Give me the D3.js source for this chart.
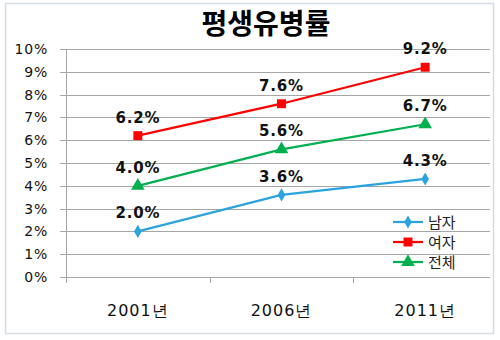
<!DOCTYPE html>
<html><head><meta charset="utf-8">
<script src="https://cdn.jsdelivr.net/npm/d3@7"></script>
<style>body{margin:0;background:#fff}svg{display:block}</style>
</head><body>
<svg id="c" width="500" height="340"></svg>
<script>
const categories = ["2001년", "2006년", "2011년"];
const male = [2.0, 3.6, 4.3];
const female = [6.2, 7.6, 9.2];
const total = [4.0, 5.6, 6.7];
const seriesNames = ["남자", "여자", "전체"];
const yTicks = [0,1,2,3,4,5,6,7,8,9,10];
const title = "평생유병률";

(function(){
const series = [
  {name: seriesNames[0], values: male, color: "#2AA3DF", shape: d3.symbolDiamond, size: 50},
  {name: seriesNames[1], values: female, color: "#FF0000", shape: d3.symbolSquare, size: 80},
  {name: seriesNames[2], values: total, color: "#00B050", shape: d3.symbolTriangle, size: 80}
];

const svg = d3.select("#c");
svg.append("rect").attr("x",5.5).attr("y",3.5).attr("width",488).attr("height",330)
  .attr("fill","#fff").attr("stroke","#D6DCE4").attr("stroke-width",1.5);

const pl = 66, pr = 497, pt = 49, pb = 277;
const x = d3.scaleBand().domain(categories).range([pl, pr]);
const y = d3.scaleLinear().domain([0, 10]).range([pb, pt]);

svg.append("text").attr("x", 266).attr("y", 34).attr("text-anchor","middle")
  .attr("font-family","Noto Sans CJK KR").attr("font-weight","bold").attr("font-size",28)
  .attr("fill","#000").text(title);

// gridlines
svg.append("g").selectAll("line").data(yTicks).join("line")
  .attr("x1", pl - 6).attr("x2", 490)
  .attr("y1", d => Math.round(y(d)) + 0.5).attr("y2", d => Math.round(y(d)) + 0.5)
  .attr("stroke", "#A6A6A6").attr("stroke-width", 1);

// y axis line
svg.append("line").attr("x1", pl + 0.5).attr("x2", pl + 0.5).attr("y1", pt).attr("y2", pb + 6)
  .attr("stroke", "#A6A6A6");

// x ticks
svg.append("g").selectAll("line").data(categories.slice(1)).join("line")
  .attr("x1", d => Math.round(x(d)) + 0.5).attr("x2", d => Math.round(x(d)) + 0.5)
  .attr("y1", pb).attr("y2", pb + 6).attr("stroke", "#A6A6A6");

// y labels
svg.append("g").selectAll("text").data(yTicks).join("text")
  .attr("x", 48).attr("y", d => y(d) + 5).attr("text-anchor","end")
  .attr("font-family","DejaVu Sans").attr("font-size",14).attr("letter-spacing",0.8)
  .attr("fill","#111").text(d => d + "%");

// x labels
svg.append("g").selectAll("text").data(categories).join("text")
  .attr("x", d => x(d) + x.bandwidth()/2).attr("y", 316).attr("text-anchor","middle")
  .attr("font-family","DejaVu Sans").attr("font-size",16).attr("letter-spacing",1)
  .attr("fill","#111").text(d => d);

const cx = (d,i) => x(categories[i]) + x.bandwidth()/2;
const line = d3.line().x((d,i) => cx(d,i)).y(d => y(d));

series.forEach(s => {
  svg.append("path").attr("d", line(s.values)).attr("fill","none")
    .attr("stroke", s.color).attr("stroke-width", 2.25);
  svg.append("g").selectAll("path").data(s.values).join("path")
    .attr("transform", (d,i) => `translate(${cx(d,i)},${y(d)})`)
    .attr("d", d3.symbol().type(s.shape).size(s.size)).attr("fill", s.color);
  svg.append("g").selectAll("text").data(s.values).join("text")
    .attr("x", (d,i) => cx(d,i)).attr("y", d => y(d) - 13).attr("text-anchor","middle")
    .attr("font-family","DejaVu Sans").attr("font-weight","bold").attr("font-size",15)
    .attr("letter-spacing",0.8).attr("fill","#111").text(d => d.toFixed(1) + "%");
});

// legend
const lg = svg.append("g");
series.forEach((s, i) => {
  const ly = 222 + i * 20;
  lg.append("line").attr("x1", 393).attr("x2", 423).attr("y1", ly).attr("y2", ly)
    .attr("stroke", s.color).attr("stroke-width", 2.25);
  lg.append("path").attr("transform", `translate(408,${ly})`)
    .attr("d", d3.symbol().type(s.shape).size(s.size)).attr("fill", s.color);
  lg.append("text").attr("x", 428).attr("y", ly + 5.5)
    .attr("font-family","Noto Sans CJK KR").attr("font-size",15).attr("fill","#222").text(s.name);
});
})();
</script>
</body></html>
